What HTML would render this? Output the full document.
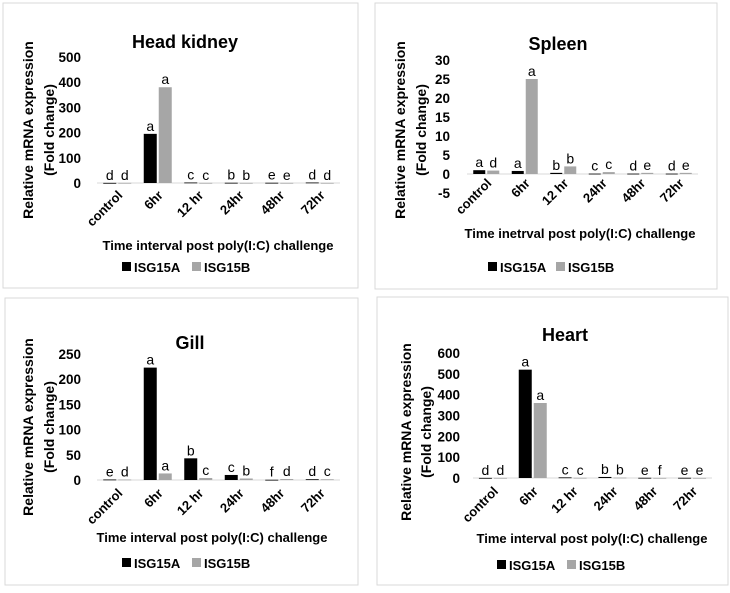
<!DOCTYPE html>
<html><head><meta charset="utf-8">
<style>
html,body{margin:0;padding:0;background:#fff;}
svg text{font-family:"Liberation Sans",sans-serif;}
</style></head>
<body>
<svg id="root" width="730" height="588" viewBox="0 0 730 588" xmlns="http://www.w3.org/2000/svg"></svg>
<script>
const categories = ["control","6hr","12 hr","24hr","48hr","72hr"];
const hkA = [0.5,195,2,1,1,2];
const hkB = [0.5,380,0.5,0.5,0.5,0.5];
const hkLetA = ["d","a","c","b","e","d"];
const hkLetB = ["d","a","c","b","e","d"];
const hkTicks = [0,100,200,300,400,500];
const spA = [1,0.8,0.3,0.1,0.1,0.1];
const spB = [0.9,25,2,0.5,0.3,0.3];
const spLetA = ["a","a","b","c","d","d"];
const spLetB = ["d","a","b","c","e","e"];
const spTicks = [-5,0,5,10,15,20,25,30];
const giA = [1,223,43,10,0.5,1.5];
const giB = [1,13,4,3,2,1.5];
const giLetA = ["e","a","b","c","f","d"];
const giLetB = ["d","a","c","b","d","c"];
const giTicks = [0,50,100,150,200,250];
const heA = [0.5,520,3,5,1,1];
const heB = [0.5,360,1,2,0.5,0.5];
const heLetA = ["d","a","c","b","e","e"];
const heLetB = ["d","a","c","b","f","e"];
const heTicks = [0,100,200,300,400,500,600];

const NS="http://www.w3.org/2000/svg";
const root=document.getElementById('root');
function mk(tag,attrs,parent,txt){const e=document.createElementNS(NS,tag);for(const k in attrs)e.setAttribute(k,attrs[k]);if(txt!==undefined)e.textContent=txt;parent.appendChild(e);return e;}

function chart(c){
  const g=mk('g',{},root);
  
  
  const box=mk('rect',{x:c.box[0],y:c.box[1],width:c.box[2],height:c.box[3],fill:'#fff',stroke:'#d9d9d9','stroke-width':1},g);
  
  
  const t=mk('text',{x:c.titleX,y:c.titleY,'text-anchor':'middle','font-size':18,'font-weight':'bold',fill:'#000'},g,c.title);
  
  
  const ymin=c.ticks[0], ymax=c.ticks[c.ticks.length-1];
  const y=v=>c.y0+(v-ymin)/(ymax-ymin)*(c.y1-c.y0);
  const bw=(c.x1-c.x0)/categories.length;
  const xc=i=>c.x0+bw*(i+0.5);
  c.ticks.forEach(tv=>{
    const tt=mk('text',{x:c.tickX,y:y(tv)+5,'text-anchor':'end','font-size':13.5,'font-weight':'bold',fill:'#000'},g,tv);
    
    
  });
  const ax=mk('line',{x1:c.x0,x2:c.x1,y1:y(0),y2:y(0),stroke:'#d9d9d9','stroke-width':1},g);
  
  
  const w=c.barW;
  categories.forEach((cat,i)=>{
    [[c.a,'#000',c.la,-1],[c.b,'#a6a6a6',c.lb,1]].forEach(([arr,col,let,s])=>{
      const v=arr[i];
      const bx=s<0?xc(i)-w-1:xc(i)+1;
      const top=Math.min(y(v),y(0)), h=Math.max(Math.abs(y(v)-y(0)),0.8);
      const r=mk('rect',{x:bx,y:top,width:w,height:h,fill:col},g);
      
      
      const lt=mk('text',{x:bx+w/2,y:top-3,'text-anchor':'middle','font-size':14,fill:'#000'},g,let[i]);
      
      
    });
    const cx=xc(i)+6, cy=c.catY;
    const cl=mk('text',{x:cx,y:cy,'text-anchor':'end','font-size':13,'font-weight':'bold',fill:'#000',transform:`rotate(-45 ${cx} ${cy})`},g,cat);
    
    
  });
  const xt=mk('text',{x:c.xtX,y:c.xtY,'text-anchor':'middle','font-size':13,'font-weight':'bold',fill:'#000'},g,c.xtitle);
  
  
  const yt1=mk('text',{x:c.ytX1,y:c.ytY,'text-anchor':'middle','font-size':14,'font-weight':'bold',fill:'#000',transform:`rotate(-90 ${c.ytX1} ${c.ytY})`},g,'Relative mRNA expression');
  
  
  const yt2=mk('text',{x:c.ytX2,y:c.ytY,'text-anchor':'middle','font-size':14,'font-weight':'bold',fill:'#000',transform:`rotate(-90 ${c.ytX2} ${c.ytY})`},g,'(Fold change)');
  
  
  [['ISG15A','#000',0],['ISG15B','#a6a6a6',c.legGap]].forEach(([n,col,dx])=>{
    const lg=mk('g',{},g);
    
    
    mk('rect',{x:c.legX+dx,y:c.legY-10,width:9,height:9,fill:col},lg);
    mk('text',{x:c.legX+dx+12,y:c.legY,'font-size':13,'font-weight':'bold',fill:'#000'},lg,n);
  });
}

chart({id:'head-kidney',title:'Head kidney',box:[3,3,355,285],titleX:185,titleY:48,ticks:hkTicks,y0:183,y1:57,x0:97,x1:340,tickX:81,barW:13,a:hkA,b:hkB,la:hkLetA,lb:hkLetB,catY:196,xtitle:'Time interval post poly(I:C) challenge',xtX:218,xtY:250,ytX1:33,ytX2:54,ytY:130,legX:122,legY:272,legGap:70});
chart({id:'spleen',title:'Spleen',box:[375,3,342,286],titleX:558,titleY:50,ticks:spTicks,y0:193,y1:60,x0:467,x1:698,tickX:450,barW:12,a:spA,b:spB,la:spLetA,lb:spLetB,catY:184,xtitle:'Time inetrval post poly(I:C) challenge',xtX:580,xtY:238,ytX1:405,ytX2:426,ytY:130,legX:488,legY:272,legGap:68});
chart({id:'gill',title:'Gill',box:[5,298,353,287],titleX:190,titleY:349,ticks:giTicks,y0:480,y1:354,x0:97,x1:340,tickX:81,barW:13,a:giA,b:giB,la:giLetA,lb:giLetB,catY:494,xtitle:'Time interval post poly(I:C) challenge',xtX:212,xtY:542,ytX1:33,ytX2:54,ytY:427,legX:122,legY:568,legGap:70});
chart({id:'heart',title:'Heart',box:[377,297,351,288],titleX:565,titleY:341,ticks:heTicks,y0:478,y1:353,x0:473,x1:712,tickX:460,barW:13,a:heA,b:heB,la:heLetA,lb:heLetB,catY:492,xtitle:'Time interval post poly(I:C) challenge',xtX:592,xtY:543,ytX1:411,ytX2:431,ytY:432,legX:497,legY:570,legGap:70});
</script>
</body></html>
